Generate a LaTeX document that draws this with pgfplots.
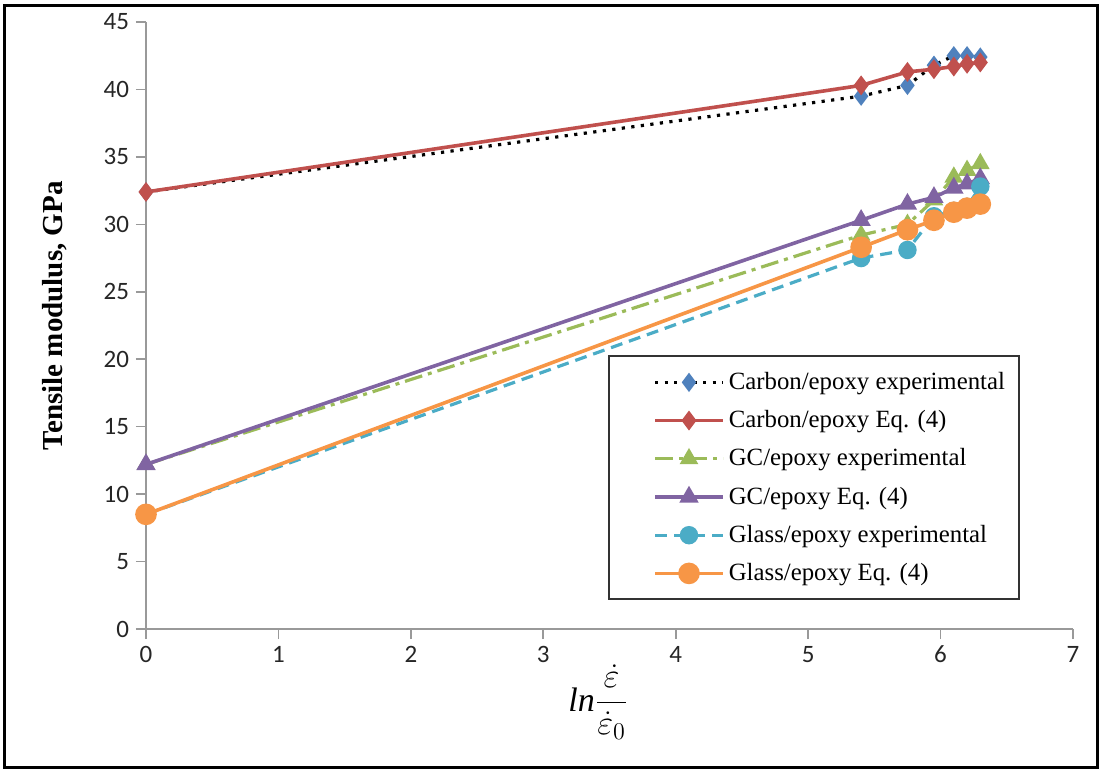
\documentclass[border=0pt]{standalone}
\usepackage{amsmath}
\usepackage{fontspec}
\setmainfont{Liberation Serif}
\newfontfamily\carlito{Carlito}
\usepackage{pgfplots}
\pgfplotsset{compat=1.18}

\definecolor{xblue}{HTML}{4F81BD}
\definecolor{xred}{HTML}{C0504D}
\definecolor{xgreen}{HTML}{9BBB59}
\definecolor{xpurple}{HTML}{8064A2}
\definecolor{xteal}{HTML}{4BACC6}
\definecolor{xorange}{HTML}{F79646}

\begin{document}
\begin{tikzpicture}
\path (-73pt,-71.5pt) rectangle (478pt,314.5pt);
\draw[line width=1.5pt] (-70.5pt,-69pt) rectangle (475.5pt,311.5pt);
\begin{axis}[
    scale only axis,
    width=463.5pt, height=303.5pt,
    xmin=0, xmax=7, ymin=0, ymax=45,
    xtick={0,1,...,7}, ytick={0,5,...,45},
    axis lines*=left,
    axis line style={gray!80, line width=0.8pt, -},
    tick style={gray!80, line width=0.8pt},
    tick align=outside,
    major tick length=5pt,
    ticklabel style={font=\carlito\fontsize{12.5}{14}\selectfont, text=black!85},
    /pgf/number format/assume math mode=true,
    ylabel={\bfseries Tensile modulus, GPa},
    ylabel style={font=\fontsize{14.5}{16}\selectfont, at={(axis description cs:-0.098,0.516)}, anchor=center},
    xlabel={$\mathit{ln}\dfrac{\dot{\varepsilon}}{\dot{\varepsilon}_0}$},
    xlabel style={font=\fontsize{17}{20}\selectfont, at={(axis description cs:0.488,-0.121)}, anchor=center},
    legend style={at={(axis description cs:0.4986,0.451)}, anchor=north west,
        draw=black!80, line width=1pt, font=\fontsize{12.4}{14}\selectfont,
        row sep=5pt, inner xsep=5pt, inner ysep=6pt},
    legend cell align=left,
    legend image code/.code={
        \path (-17pt,0pt);
        \draw[mark repeat=2, mark phase=2] plot coordinates {(0pt,0pt) (17pt,0pt) (34pt,0pt)};
    },
]
\addplot[black, line width=1.6pt, dash pattern=on 1.6pt off 3.2pt, mark=diamond*, mark size=3.5pt,
    mark options={solid, xblue, fill=xblue}] coordinates {
    (0,32.4)(5.4,39.5)(5.75,40.3)(5.95,41.8)(6.1,42.5)(6.2,42.5)(6.3,42.4)};
\addlegendentry{Carbon/epoxy experimental}
\addplot[xred, line width=1.8pt, mark=diamond*, mark size=3.5pt, mark options={solid, fill=xred}] coordinates {
    (0,32.4)(5.4,40.3)(5.75,41.3)(5.95,41.5)(6.1,41.7)(6.2,41.9)(6.3,42.0)};
\addlegendentry{Carbon/epoxy Eq. (4)}
\addplot[xgreen, line width=1.6pt, dash pattern=on 9pt off 3pt on 2pt off 3pt, mark=triangle*, mark size=3.8pt,
    mark options={solid, fill=xgreen}] coordinates {
    (0,12.2)(5.4,29.2)(5.75,30.0)(5.95,31.8)(6.1,33.5)(6.2,34.0)(6.3,34.5)};
\addlegendentry{GC/epoxy experimental}
\addplot[xpurple, line width=1.8pt, mark=triangle*, mark size=3.8pt, mark options={solid, fill=xpurple}] coordinates {
    (0,12.2)(5.4,30.3)(5.75,31.5)(5.95,32.0)(6.1,32.7)(6.2,33.0)(6.3,33.4)};
\addlegendentry{GC/epoxy Eq. (4)}
\addplot[xteal, line width=1.6pt, dash pattern=on 6pt off 3.5pt, mark=*, mark size=3.8pt,
    mark options={solid, fill=xteal}] coordinates {
    (0,8.5)(5.4,27.5)(5.75,28.1)(5.95,30.6)(6.1,31.0)(6.2,31.3)(6.3,32.8)};
\addlegendentry{Glass/epoxy experimental}
\addplot[xorange, line width=1.8pt, mark=*, mark size=4.5pt, mark options={solid, fill=xorange}] coordinates {
    (0,8.5)(5.4,28.3)(5.75,29.6)(5.95,30.3)(6.1,30.9)(6.2,31.2)(6.3,31.5)};
\addlegendentry{Glass/epoxy Eq. (4)}
\end{axis}
\end{tikzpicture}
\end{document}
